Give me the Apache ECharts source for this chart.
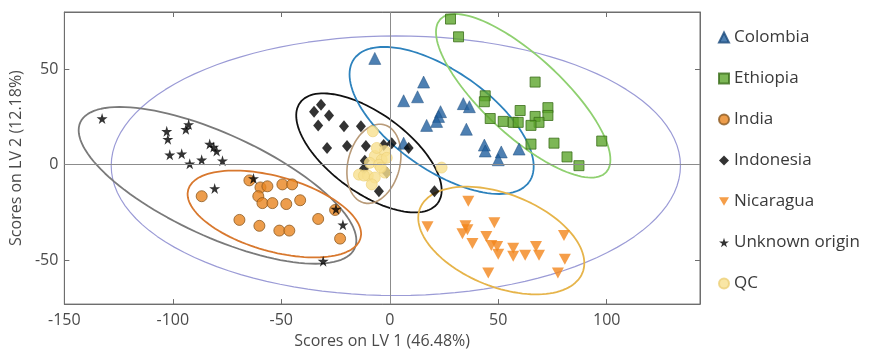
<!DOCTYPE html>
<html>
<head>
<meta charset="utf-8">
<script src="https://cdn.jsdelivr.net/npm/echarts@6/dist/echarts.min.js"></script>
<style>
  html, body { margin: 0; padding: 0; background: #fff; }
  #chart { width: 883px; height: 354px; }
</style>
</head>
<body>
<div id="chart"></div>
<script>
// 各产地的得分 [LV1, LV2]
const colombia = [[-6.9, 55.7], [15.6, 43.3], [6.4, 33.5], [12.8, 35.6], [33.9, 32.0], [36.7, 30.4],
  [23.4, 27.8], [22.5, 25.3], [17.0, 20.6], [21.6, 22.7], [35.3, 18.6], [43.6, 10.3], [44.0, 7.2],
  [51.4, 6.7], [50.0, 2.6], [59.6, 8.2], [6.4, 11.3]]
const ethiopia = [[28.0, 76.3], [31.7, 67.0], [67.0, 43.3], [44.0, 36.1], [43.6, 33.0], [60.1, 28.4],
  [72.9, 29.9], [72.9, 25.8], [67.0, 25.3], [68.8, 22.2], [65.1, 20.6], [46.3, 24.2], [52.3, 22.7],
  [56.9, 22.2], [59.2, 22.2], [65.1, 10.8], [75.7, 11.3], [97.7, 12.4], [81.7, 4.1], [87.2, -0.5]]
const india = [[-86.7, -16.5], [-64.7, -8.2], [-59.6, -11.9], [-56.4, -11.3], [-60.6, -16.5],
  [-58.7, -20.1], [-54.1, -20.1], [-49.5, -10.3], [-45.0, -10.3], [-47.7, -20.6], [-41.3, -18.6],
  [-69.3, -28.9], [-60.1, -32.0], [-50.9, -34.5], [-46.3, -34.5], [-33.0, -28.4], [-25.2, -23.7],
  [-22.9, -38.7]]
const indonesia = [[-34.9, 27.8], [-31.7, 31.4], [-28.0, 25.8], [-33.0, 20.6], [-21.1, 20.1],
  [-13.3, 20.1], [-28.9, 8.8], [-19.7, 9.8], [-11.0, 9.8], [-2.8, 10.3], [0.9, 11.3], [8.7, 8.8],
  [-11.5, 2.1], [-11.9, -2.1], [-1.4, -4.1], [-5.0, -13.9], [20.6, -13.9]]
const nicaragua = [[36.2, -19.1], [17.4, -32.5], [34.9, -32.0], [48.2, -30.4], [33.5, -36.1],
  [35.8, -34.0], [44.5, -37.6], [38.1, -41.2], [49.5, -42.8], [50.0, -46.9], [56.9, -43.8],
  [56.9, -47.9], [62.4, -47.4], [67.4, -42.8], [68.8, -47.4], [80.3, -37.1], [80.7, -49.5],
  [45.4, -56.7], [77.5, -56.7], [46.8, -42.3]]
const unknown = [[-132.6, 24.2], [-102.8, 17.5], [-102.3, 13.4], [-92.7, 21.1], [-94.0, 18.6],
  [-83.0, 10.8], [-81.2, 9.3], [-79.8, 7.2], [-101.4, 5.2], [-95.9, 5.7], [-92.2, 0.5], [-86.7, 2.6],
  [-77.1, 2.1], [-62.8, -7.2], [-80.7, -12.4], [-21.6, -31.4], [-24.8, -23.2], [-30.7, -50.5]]
const qc = [[-7.8, 17.5], [-2.3, 7.2], [-6.9, 4.6], [-3.7, 2.6], [-9.2, 1.0], [-5.0, 0], [-14.2, -5.2],
  [-10.1, -5.7], [-6.9, -6.7], [-2.3, -4.1], [-8.3, -10.3], [23.9, -1.5], [-4.1, -1.5], [-11.9, -5.7],
  [-1.4, 3.6], [-6.0, 8.8]]

// 置信椭圆: [中心x, 中心y, 半轴u(x,y), 半轴v(x,y)]
const ellAll = [2.8, -0.5, 131.2, 0, 0, -68]
const ellUnknown = [-79.4, -10.8, 63.2, -33.1, -10.1, -24.3]
const ellIndia = [-53.2, -25.8, 39.7, -12.8, -4.8, -18.8]
const ellIndonesia = [-9.6, 6.2, 31.7, -26.4, -10.9, -16.6]
const ellQc = [-7.3, 0.5, 4.55, 20.5, 11.6, -3.2]
const ellColombia = [23.9, 23.2, 40.3, -32.3, -13.3, -21.0]
const ellEthiopia = [61.5, 36.1, 38.2, -40.1, -12.5, -15.1]
const ellNicaragua = [51.4, -39.7, 37.4, -17.0, -8.1, -22.5]

const xTicks = [-150, -100, -50, 0, 50, 100]
const yTicks = [-50, 0, 50]

const ellipsePoints = (e) => {
  const pts = []
  for (let i = 0; i <= 120; i++) {
    const t = (i / 120) * Math.PI * 2
    pts.push([e[0] + e[2] * Math.cos(t) + e[4] * Math.sin(t), e[1] + e[3] * Math.cos(t) + e[5] * Math.sin(t)])
  }
  return pts
}

const ellipse = (e, color, width) => ({
  type: 'line',
  data: ellipsePoints(e),
  showSymbol: false,
  smooth: false,
  silent: true,
  z: 1,
  lineStyle: { color: color, width: width }
})

const STAR = 'path://M50,0 L61,35 L98,35 L68,57 L79,91 L50,70 L21,91 L32,57 L2,35 L39,35 Z'
const DOWN = 'path://M0,0 L100,0 L50,87 Z'

const font = 'Open Sans'
const myChart = echarts.init(document.getElementById('chart'))

const axisCommon = {
  type: 'value',
  splitLine: { show: false },
  axisLine: { show: true, onZero: false, lineStyle: { color: '#6e6e6e', width: 1 } }
}

const option = {
  animation: false,
  grid: { left: 63, right: 183, top: 12, bottom: 46, show: true, borderColor: '#6e6e6e', borderWidth: 1 },
  legend: {
    orient: 'vertical',
    left: 713,
    top: 24,
    itemWidth: 10,
    itemHeight: 10,
    itemGap: 24,
    data: ['Colombia', 'Ethiopia', 'India', 'Indonesia', 'Nicaragua', 'Unknown origin', 'QC'],
    textStyle: { fontFamily: font, fontSize: 17, color: '#3a3a3a' }
  },
  xAxis: [
    Object.assign({}, axisCommon, {
      min: -150,
      max: 143,
      position: 'bottom',
      name: 'Scores on LV 1 (46.48%)',
      nameLocation: 'middle',
      nameGap: 27,
      nameTextStyle: { fontFamily: font, fontSize: 16, color: '#4a4a4a' },
      axisTick: { inside: true, length: 5, customValues: xTicks, lineStyle: { color: '#6e6e6e' } },
      axisLabel: { customValues: xTicks, fontFamily: font, fontSize: 16, color: '#4a4a4a', margin: 8 }
    }),
    Object.assign({}, axisCommon, {
      min: -150,
      max: 143,
      position: 'top',
      axisTick: { inside: true, length: 5, customValues: xTicks, lineStyle: { color: '#6e6e6e' } },
      axisLabel: { show: false }
    })
  ],
  yAxis: [
    Object.assign({}, axisCommon, {
      min: -73,
      max: 80,
      position: 'left',
      name: 'Scores on LV 2 (12.18%)',
      nameLocation: 'middle',
      nameGap: 32,
      nameTextStyle: { fontFamily: font, fontSize: 16, color: '#4a4a4a' },
      axisTick: { inside: true, length: 5, customValues: yTicks, lineStyle: { color: '#6e6e6e' } },
      axisLabel: { customValues: yTicks, fontFamily: font, fontSize: 16, color: '#4a4a4a', margin: 6 }
    }),
    Object.assign({}, axisCommon, {
      min: -73,
      max: 80,
      position: 'right',
      axisTick: { inside: true, length: 5, customValues: yTicks, lineStyle: { color: '#6e6e6e' } },
      axisLabel: { show: false }
    })
  ],
  series: [
    Object.assign(ellipse(ellAll, '#9b9bd6', 1.2), {
      markLine: {
        silent: true,
        symbol: ['none', 'none'],
        label: { show: false },
        lineStyle: { color: '#8c8c8c', type: 'solid', width: 1 },
        data: [{ xAxis: 0 }, { yAxis: 0 }]
      }
    }),
    ellipse(ellUnknown, '#7a7a7a', 1.8),
    ellipse(ellIndia, '#d8782e', 1.8),
    ellipse(ellIndonesia, '#111111', 1.8),
    ellipse(ellQc, '#b89a78', 1.6),
    ellipse(ellColombia, '#2d82bd', 1.8),
    ellipse(ellEthiopia, '#8fd070', 1.8),
    ellipse(ellNicaragua, '#e6b44a', 1.8),
    {
      name: 'Colombia', type: 'scatter', data: colombia, symbol: 'triangle', symbolSize: 12, z: 3,
      itemStyle: { color: '#22609f', borderColor: '#1a4a7c', borderWidth: 0.6 }
    },
    {
      name: 'Ethiopia', type: 'scatter', data: ethiopia, symbol: 'rect', symbolSize: 10, z: 3,
      itemStyle: { color: '#5da52c', borderColor: '#3b6e1a', borderWidth: 1 }
    },
    {
      name: 'India', type: 'scatter', data: india, symbol: 'circle', symbolSize: 11, z: 3,
      itemStyle: { color: '#e9851f', borderColor: '#8c5a22', borderWidth: 1 }
    },
    {
      name: 'Indonesia', type: 'scatter', data: indonesia, symbol: 'diamond', symbolSize: [10, 12], z: 3,
      itemStyle: { color: '#000000' }
    },
    {
      name: 'Nicaragua', type: 'scatter', data: nicaragua, symbol: DOWN, symbolSize: [12, 11], z: 3,
      itemStyle: { color: '#f2861c' }
    },
    {
      name: 'Unknown origin', type: 'scatter', data: unknown, symbol: STAR, symbolSize: 11, z: 4,
      itemStyle: { color: '#000000' }
    },
    {
      name: 'QC', type: 'scatter', data: qc, symbol: 'circle', symbolSize: 11, z: 3,
      itemStyle: { color: '#f8e08e', borderColor: '#eccf78', borderWidth: 0.8 }
    }
  ]
}

myChart.setOption(option)
window.addEventListener('resize', () => {
  myChart.resize()
})
</script>
</body>
</html>
